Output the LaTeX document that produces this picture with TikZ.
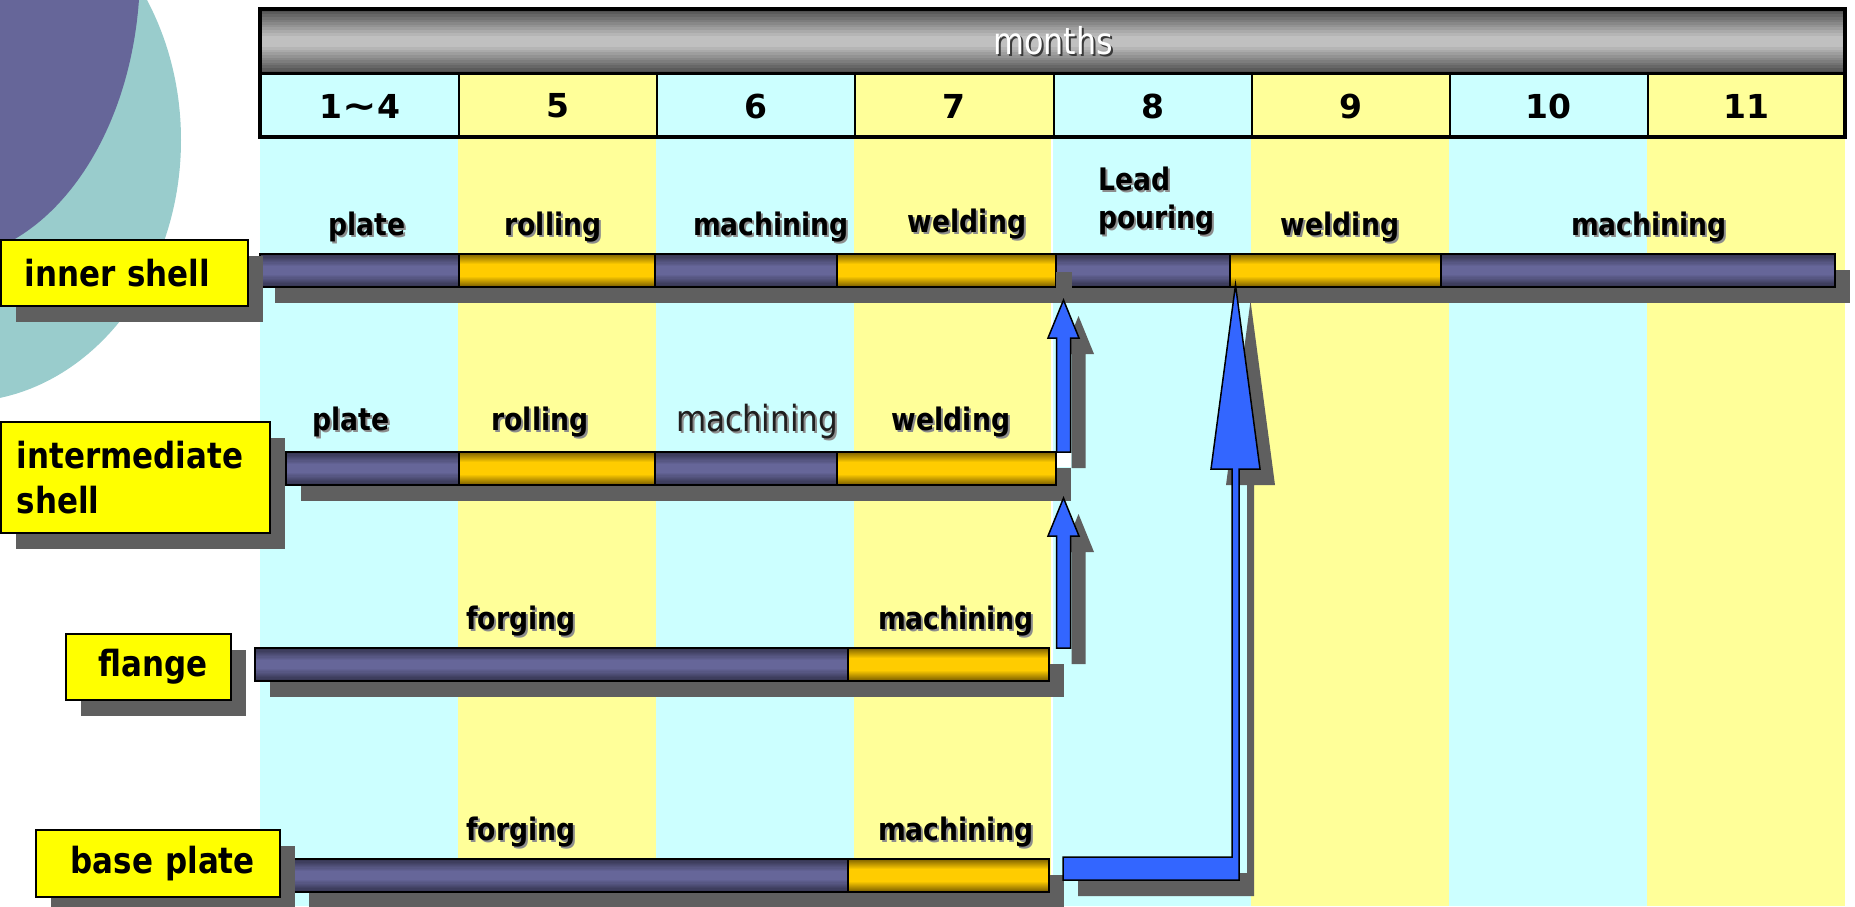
\documentclass[tikz,border=0pt]{standalone}
\usepackage{fontspec}
\usetikzlibrary{calc}
\newfontfamily\lab[FakeStretch=0.86]{DejaVu Sans}
\newfontfamily\numf{DejaVu Sans}

\definecolor{decoteal}{HTML}{99CCCC}
\definecolor{decopurple}{HTML}{666699}
\definecolor{stripecyan}{HTML}{CCFFFF}
\definecolor{stripeyellow}{HTML}{FFFF99}
\definecolor{pmid}{HTML}{666699}
\definecolor{pdark}{HTML}{34344F}
\definecolor{gmid}{HTML}{FFCC00}
\definecolor{gdark}{HTML}{806300}
\definecolor{hmid}{HTML}{C0C0C0}
\definecolor{hdark}{HTML}{505050}
\definecolor{shadowgrey}{HTML}{5F5F5F}
\definecolor{boxyellow}{HTML}{FFFF00}
\definecolor{arrowblue}{HTML}{3366FF}
\definecolor{txtshadow}{HTML}{8C8C8C}
\definecolor{darkshadow}{HTML}{3A3A3A}

% text with a soft offset shadow
\newcommand{\shd}[1]{\makebox[0pt][l]{\hspace{2pt}\raisebox{-2pt}{\textcolor{txtshadow}{#1}}}#1}
\newcommand{\shdw}[1]{\makebox[0pt][l]{\hspace{2pt}\raisebox{-2pt}{\textcolor{darkshadow}{#1}}}\textcolor{white}{#1}}

\tikzset{
  shadowed/.style={preaction={fill=shadowgrey, draw=none, transform canvas={xshift=15pt,yshift=-16pt}}},
  % flat middle colour (#1) darkening towards #2 over a rim of #3 at top and bottom
  rimfill/.style n args={3}{fill=#1, path picture={
      \foreach \k in {0,...,9} {
        \pgfmathsetmacro\pc{100-10*\k}
        \fill[#2!\pc!#1] ($(path picture bounding box.north west)+(0,{\k*#3/10})$)
          rectangle ($(path picture bounding box.north east)+(0,{(\k+1)*#3/10+0.4})$);
        \fill[#2!\pc!#1] ($(path picture bounding box.south west)+(0,{-\k*#3/10})$)
          rectangle ($(path picture bounding box.south east)+(0,{-(\k+1)*#3/10-0.4})$);
      }}},
  bar/.style={shadowed, draw=black, line width=2pt, inner sep=0pt, outer sep=0pt,
    minimum height=33pt, anchor=north west},
  pbar/.style={bar, rimfill={pmid}{pdark}{12}},
  gbar/.style={bar, rimfill={gmid}{gdark}{10}},
  barlbl/.style={font={\lab\bfseries\fontsize{31}{38}\selectfont}, inner sep=0pt, anchor=base},
  thinlbl/.style={font={\lab\fontsize{36}{42}\selectfont}, text=black!88, inner sep=0pt, anchor=base},
  rowbox/.style={shadowed, draw=black, line width=1.5pt, fill=boxyellow, inner ysep=0pt,
    anchor=north west, font={\lab\bfseries\fontsize{36}{45}\selectfont}},
  monthcell/.style={draw=black, line width=2pt, inner sep=0pt, anchor=north west,
    minimum width=198.125pt, minimum height=64pt, font={\numf\bfseries\fontsize{33}{40}\selectfont}},
  blockarrow/.style={shadowed, fill=arrowblue, draw=black, line width=1.5pt, line join=miter},
}

\begin{document}
\begin{tikzpicture}[x=1pt,y=-1pt]
\useasboundingbox (0,0) rectangle (1855,906);

% corner decoration
\begin{scope}
  \clip (0,0) rectangle (1855,906);
  \fill[decoteal] (-39,140) ellipse [x radius=220, y radius=262];
  \fill[decopurple] (-60,-30) ellipse [x radius=200, y radius=290];
\end{scope}

% month stripes
\foreach \i/\c in {0/stripecyan,1/stripeyellow,2/stripecyan,3/stripeyellow,4/stripecyan,5/stripeyellow,6/stripecyan,7/stripeyellow}
  \fill[\c] (260+198.125*\i,137) rectangle ++(198.125,769);
\draw[white, line width=1.2pt] (1052,137) -- (1052,906);

% header
\node[rimfill={hmid}{hdark}{26}, inner sep=0pt, anchor=north west, minimum width=1585pt, minimum height=64pt] (band) at (260,9) {};
\node[font={\lab\fontsize{37}{42}\selectfont}, inner sep=0pt, anchor=base] (months) at (1053,54) {\shdw{months}};
\foreach \i/\c/\t in {0/stripecyan/1\scalebox{1.25}[1.1]{∼}4,1/stripeyellow/5,2/stripecyan/6,3/stripeyellow/7,4/stripecyan/8,5/stripeyellow/9,6/stripecyan/10,7/stripeyellow/11}
  \node[monthcell, fill=\c] (m\i) at (260+198.125*\i,73) {\t};
\draw[line width=3pt] (m0.north west) -- (m7.north east);
\draw[line width=4pt] (260,9) rectangle (1845,137);

% inner shell
\node[pbar, minimum width=199pt] (r1a) at (260,254) {};
\node[gbar, minimum width=196pt] (r1b) at (r1a.north east) {};
\node[pbar, minimum width=182pt] (r1c) at (r1b.north east) {};
\node[gbar, minimum width=219pt] (r1d) at (r1c.north east) {};
\node[pbar, minimum width=174pt] (r1e) at (r1d.north east) {};
\node[gbar, minimum width=211pt] (r1f) at (r1e.north east) {};
\node[pbar, minimum width=394pt] (r1g) at (r1f.north east) {};
\fill[shadowgrey] ($(r1e.south west)+(0,-15)$) rectangle ($(r1e.south west)+(16,1)$);

% intermediate shell
\node[pbar, minimum width=173pt] (r2a) at (286,452) {};
\node[gbar, minimum width=196pt] (r2b) at (r2a.north east) {};
\node[pbar, minimum width=182pt] (r2c) at (r2b.north east) {};
\node[gbar, minimum width=219pt] (r2d) at (r2c.north east) {};
\fill[white] ($(r2d.north east)+(1,0)$) rectangle ($(r2d.north east)+(15,15)$);

% flange
\node[pbar, minimum width=593pt] (r3a) at (255,648) {};
\node[gbar, minimum width=201pt] (r3b) at (r3a.north east) {};

% base plate
\node[pbar, minimum width=554pt] (r4a) at (294,859) {};
\node[gbar, minimum width=201pt] (r4b) at (r4a.north east) {};

% row names
\node[rowbox, minimum width=247pt, minimum height=66pt, inner xsep=0pt, text width=247pt, align=center] (inner) at (0,239) {\hspace*{-14pt}inner shell};
\node[rowbox, minimum width=269pt, minimum height=111pt, inner xsep=16pt, text width=237pt, align=left] (inter) at (0,421) {intermediate\\shell};
\node[rowbox, minimum width=165pt, minimum height=66pt, inner xsep=0pt, text width=165pt, align=center] (flange) at (65,633) {\hspace*{9pt}flange};
\node[rowbox, minimum width=244pt, minimum height=67pt, inner xsep=0pt, text width=244pt, align=center] (base) at (35,829) {\hspace*{10pt}base plate};

% task names
\node[barlbl] (l1a) at (367,235) {\shd{plate}};
\node[barlbl] (l1b) at (553,235) {\shd{rolling}};
\node[barlbl] (l1c) at (771,235) {\shd{machining}};
\node[barlbl] (l1d) at (967,232) {\shd{welding}};
\node[barlbl, anchor=base west, align=left] (l1e) at (1098,228) {\shd{Lead}\\[0pt]\shd{pouring}};
\node[barlbl] (l1f) at (1340,235) {\shd{welding}};
\node[barlbl] (l1g) at (1649,235) {\shd{machining}};

\node[barlbl] (l2a) at (351,430) {\shd{plate}};
\node[barlbl] (l2b) at (540,430) {\shd{rolling}};
\node[thinlbl] (l2c) at (757,431) {\shd{machining}};
\node[barlbl] (l2d) at (951,430) {\shd{welding}};

\node[barlbl] (l3a) at (521,629) {\shd{forging}};
\node[barlbl] (l3b) at (956,629) {\shd{machining}};
\node[barlbl] (l4a) at (521,840) {\shd{forging}};
\node[barlbl] (l4b) at (956,840) {\shd{machining}};

% intermediate shell -> inner shell
\coordinate (aA) at ($(r2d.north east)+(7.5,0)$);
\coordinate (tA) at ($(r1e.south west)+(7.5,13)$);
\draw[blockarrow] ($(aA)+(-7,0)$) -- ($(tA)+(-7,38)$) -- ($(tA)+(-15.5,38)$) -- (tA)
  -- ($(tA)+(15.5,38)$) -- ($(tA)+(7,38)$) -- ($(aA)+(7,0)$) -- cycle;

% flange -> intermediate shell
\coordinate (aB) at ($(r3b.north east)+(14.5,0)$);
\coordinate (tB) at ($(r2d.south east)+(7.5,13)$);
\draw[blockarrow] ($(aB)+(-7,0)$) -- ($(tB)+(-7,38)$) -- ($(tB)+(-15.5,38)$) -- (tB)
  -- ($(tB)+(15.5,38)$) -- ($(tB)+(7,38)$) -- ($(aB)+(7,0)$) -- cycle;

% base plate -> inner shell welding
\coordinate (cS) at ($(r4b.north east)+(14,-2)$);
\coordinate (tC) at ($(r1f.south west)+(5.5,-2)$);
\coordinate (cK) at (tC |- cS);
\draw[blockarrow] (cS) -- ($(cK)+(-3.5,0)$) -- ($(tC)+(-3.5,184)$) -- ($(tC)+(-24.5,184)$) -- (tC)
  -- ($(tC)+(24.5,184)$) -- ($(tC)+(3.5,184)$) -- ($(cK)+(3.5,23)$) -- ($(cS)+(0,23)$) -- cycle;
\end{tikzpicture}
\end{document}
